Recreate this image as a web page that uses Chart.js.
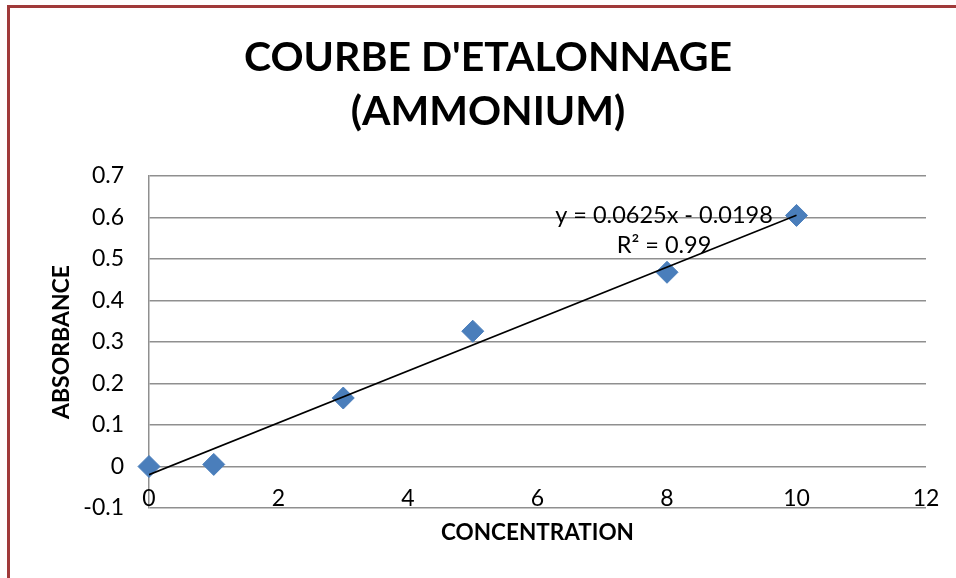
<!DOCTYPE html>
<html><head><meta charset="utf-8">
<script src="https://cdn.jsdelivr.net/npm/chart.js@4/dist/chart.umd.min.js"></script>
<style>
html,body{margin:0;padding:0;background:#fff;width:956px;height:578px;overflow:hidden;}
#frame{position:absolute;left:7px;top:5px;width:2000px;height:2000px;border-left:3px solid #a03a3a;border-top:3px solid #a03a3a;}
#wrap{position:absolute;left:0;top:0;width:956px;height:578px;}
</style></head>
<body>
<div id="frame"></div>
<div id="wrap"><canvas id="c" width="956" height="578"></canvas></div>
<script>
const titleLines = ["COURBE D'ETALONNAGE", "(AMMONIUM)"];
const xTitle = "CONCENTRATION";
const yTitle = "ABSORBANCE";
const concentration = [0, 1, 3, 5, 8, 10];
const absorbance = [0.000, 0.005, 0.165, 0.326, 0.468, 0.605];
const trendX = [0, 10];
const trendY = [-0.0198, 0.6052];
const trendLabel = ["y = 0.0625x - 0.0198", "R\u00B2 = 0.99"];
const yTickLabels = ["-0.1", "0", "0.1", "0.2", "0.3", "0.4", "0.5", "0.6", "0.7"];
const xTickLabels = ["0", "2", "4", "6", "8", "10", "12"];

const FONT = "Lato";

const textPlugin = {
  id: 'texts',
  afterDraw(chart) {
    const ctx = chart.ctx;
    ctx.save();
    ctx.fillStyle = '#000';
    ctx.textAlign = 'center';
    ctx.textBaseline = 'middle';
    ctx.font = "bold 41px " + FONT;
    ctx.fillText(titleLines[0], 488, 58);
    ctx.fillText(titleLines[1], 488, 112);
    ctx.font = "23.5px " + FONT;
    ctx.fillText(trendLabel[0], 664, 215);
    ctx.fillText(trendLabel[1], 664, 245);
    // x tick labels, placed by the x scale, sitting on the bottom gridline
    const xs = chart.scales.x;
    ctx.font = "23px " + FONT;
    xs.ticks.forEach((t, i) => {
      ctx.fillText(xTickLabels[i], xs.getPixelForValue(t.value), 499);
    });
    ctx.restore();
  }
};

new Chart(document.getElementById('c'), {
  type: 'scatter',
  data: {
    datasets: [
      {
        label: 'trend',
        type: 'line',
        data: trendX.map((x, i) => ({x: x, y: trendY[i]})),
        borderColor: '#000',
        borderWidth: 1.6,
        pointRadius: 0,
        fill: false,
        order: 1
      },
      {
        label: 'Absorbance',
        data: concentration.map((x, i) => ({x: x, y: absorbance[i]})),
        pointStyle: 'rectRot',
        pointRadius: 11,
        backgroundColor: '#4a7ebb',
        borderColor: '#4a7ebb',
        borderWidth: 1,
        clip: false,
        order: 2
      }
    ]
  },
  options: {
    responsive: false,
    animation: false,
    devicePixelRatio: 1,
    layout: {padding: {top: 176, right: 30, left: 0, bottom: 0}},
    plugins: {legend: {display: false}, tooltip: {enabled: false}, title: {display: false}},
    scales: {
      x: {
        type: 'linear', min: 0, max: 12,
        ticks: {stepSize: 2, display: false},
        grid: {display: false},
        border: {display: false},
        title: {display: true, text: xTitle, color: '#000', font: {family: FONT, size: 22.5, weight: 'bold'}, padding: {top: 0, bottom: 32}},
        afterFit: s => { s.height = 70; }
      },
      y: {
        type: 'linear', min: -0.1, max: 0.7,
        ticks: {stepSize: 0.1, color: '#000', font: {family: FONT, size: 23}, padding: 25,
          callback: (v, i) => yTickLabels[i]},
        grid: {color: '#8f8f8f', lineWidth: 1.5, drawTicks: false},
        border: {display: true, color: '#8f8f8f', width: 1.5},
        title: {display: true, text: yTitle, color: '#000', font: {family: FONT, size: 23, weight: 'bold'}, padding: {top: 48, bottom: 0}},
        afterFit: s => { s.width = 149; }
      }
    }
  },
  plugins: [textPlugin]
});
</script>
</body></html>
